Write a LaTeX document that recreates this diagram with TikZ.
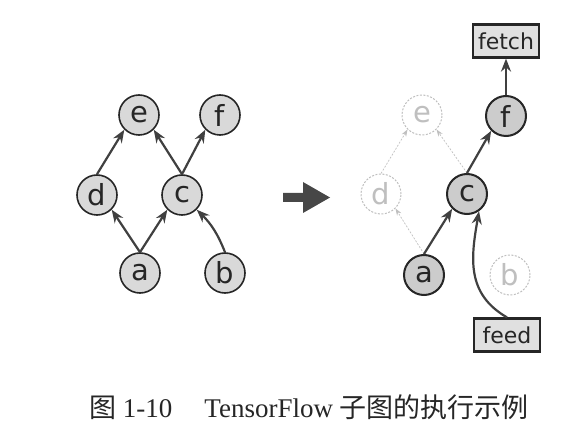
\documentclass[tikz,border=0pt]{standalone}
\usepackage{fontspec}
\setmainfont{Liberation Serif}
\newfontfamily\nodefont{DejaVu Sans}
\newfontfamily\cjk{Noto Sans CJK SC}
\usepackage{tikz}
\usetikzlibrary{arrows.meta, positioning}

\begin{document}
\begin{tikzpicture}[x=1pt,y=1pt]
    \useasboundingbox (0,0) rectangle (573,434);
    \tikzstyle{every node} = [font=\nodefont\fontsize{29}{29}\selectfont, text=black!85]
    \tikzstyle{op} = [draw=black!85, circle, line width=1.6pt, fill=black!15, minimum size=40pt, inner sep=0pt]
    \tikzstyle{liveop} = [op, line width=2pt, fill=black!20]
    \tikzstyle{deadop} = [op, draw=black!25, dash pattern=on 2pt off 1.5pt, line width=1pt, fill=white, text=black!25]
    \tikzstyle{iobox} = [draw=black!85, rectangle, line width=2.2pt, fill=black!12, minimum width=66pt, minimum height=33pt, inner sep=0pt, font=\nodefont\fontsize{22}{22}\selectfont]
    \tikzstyle{flow} = [-{Stealth[length=13pt,width=10pt]}, line width=2.2pt, draw=black!75]
    \tikzstyle{deadflow} = [-{Stealth[length=7pt,width=5pt]}, line width=0.7pt, draw=black!25, dash pattern=on 2pt off 1.5pt]
    % place nodes (full graph)
    \node[op](eFull) at (139,319){e};
    \node[op](fFull) at (220,319){f};
    \node[op](dFull) at (97,239){d};
    \node[op](cFull) at (182,239){c};
    \node[op](aFull) at (140,161){a};
    \node[op](bFull) at (225,161){b};
    % place nodes (subgraph)
    \node[deadop](eSub) at (422,319){e};
    \node[liveop](fSub) at (506,318){f};
    \node[deadop](dSub) at (381,240){d};
    \node[liveop](cSub) at (467,240){c};
    \node[liveop](aSub) at (424,159){a};
    \node[deadop](bSub) at (510,159){b};
    \node[iobox](fetch) at (506,393){fetch};
    \node[iobox](feed) at (507,99){feed};
    % big arrow in the middle
    \fill[black!72] (283,232) -- (303,232) -- (303,221) -- (330,236.5) -- (303,252) -- (303,241) -- (283,241) -- cycle;
    % Connections (full graph)
    \draw[flow] (aFull.north) -- (dFull.-45);
    \draw[flow] (aFull.north) -- (cFull.-135);
    \draw[flow] (bFull.north) to[bend right=12] (cFull.-45);
    \draw[flow] (dFull.north) -- (eFull.-135);
    \draw[flow] (cFull.north) -- (eFull.-45);
    \draw[flow] (cFull.north) -- (fFull.-135);
    % Connections (subgraph)
    \draw[deadflow] (aSub.north) -- (dSub.-45);
    \draw[deadflow] (dSub.north) -- (eSub.-135);
    \draw[deadflow] (cSub.north) -- (eSub.-45);
    \draw[flow] (aSub.north) -- (cSub.-135);
    \draw[flow] (cSub.north) -- (fSub.-135);
    \draw[flow] (fSub.north) -- (fetch.south);
    \draw[flow] (feed.north) to[out=150,in=-100,looseness=1.1] (cSub.-55);
    % caption
    \node[font=\fontsize{27}{27}\selectfont, text=black!85](caption) at (309,27)
      {{\cjk 图} 1-10\hspace{32pt}TensorFlow {\cjk 子图的执行示例}};
\end{tikzpicture}
\end{document}
